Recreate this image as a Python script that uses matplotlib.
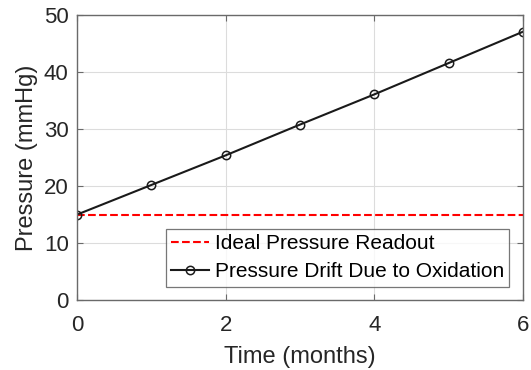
import matplotlib.pyplot as plt
import numpy as np

plt.rcParams['font.family'] = ['Liberation Sans', 'DejaVu Sans']

# Datos
months = [0, 1, 2, 3, 4, 5, 6]
ideal_pressure = [15, 15, 15, 15, 15, 15, 15]
drift_pressure = [15, 20.2, 25.4, 30.8, 36.1, 41.6, 47.1]
x_ticks = [0, 2, 4, 6]
y_ticks = [0, 10, 20, 30, 40, 50]

fig = plt.figure(figsize=(5.31, 3.70), dpi=100)
ax = fig.add_axes([0.145, 0.189, 0.84, 0.77])

ax.plot(months, ideal_pressure, '--', color='#ff0000', linewidth=1.5,
        label='Ideal Pressure Readout')
ax.plot(months, drift_pressure, '-o', color='#1a1a1a', linewidth=1.5,
        markersize=6, markerfacecolor='none', markeredgewidth=1.1,
        label='Pressure Drift Due to Oxidation')

ax.set_xlim(0, 6)
ax.set_ylim(0, 50)
ax.set_xticks(x_ticks)
ax.set_yticks(y_ticks)
ax.grid(True, color='#dcdcdc', linewidth=0.8)
ax.set_axisbelow(True)

for s in ax.spines.values():
    s.set_color('#6a6a6a')
    s.set_linewidth(1.0)
ax.tick_params(direction='in', top=True, right=True, labelsize=16,
               labelcolor='#262626', color='#6a6a6a', length=4)
ax.tick_params(axis='x', pad=11)
ax.tick_params(axis='y', pad=6)

ax.set_xlabel('Time (months)', fontsize=17, color='#262626', labelpad=7)
ax.set_ylabel('Pressure (mmHg)', fontsize=17, color='#262626', labelpad=4)

leg = ax.legend(loc='lower right', fontsize=15, frameon=True, fancybox=False,
                edgecolor='#555555', borderpad=0.25, labelspacing=0.45,
                handlelength=1.8, handletextpad=0.3, borderaxespad=0.65)
leg.get_frame().set_linewidth(0.9)

fig.savefig('out.png', dpi=100)
